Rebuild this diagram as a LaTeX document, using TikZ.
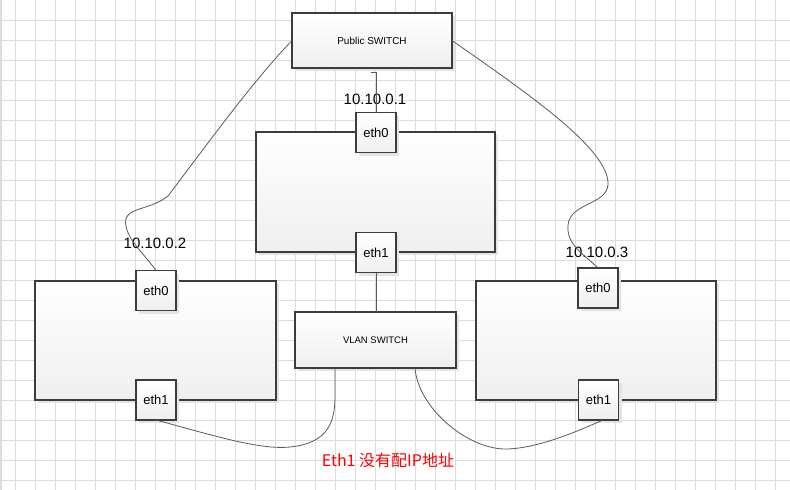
\documentclass[tikz,border=0pt]{standalone}
\usepackage{fontspec}
\setmainfont{Liberation Sans}
\newfontfamily\cjk{Noto Sans CJK SC}
\usetikzlibrary{shadows,calc}
\definecolor{gridc}{HTML}{DCDCDC}
\definecolor{boxline}{HTML}{3C3C3C}
\definecolor{wire}{HTML}{5A5A5A}
\definecolor{shadowc}{HTML}{E4E4E4}
\definecolor{boxbottom}{HTML}{EFEFEF}
\pgfdeclareverticalshading{boxshade}{100bp}{color(0bp)=(boxbottom); color(25bp)=(boxbottom); color(75bp)=(white); color(100bp)=(white)}
\begin{document}
\begin{tikzpicture}[x=1pt,y=-1pt,
  boxbase/.style={draw=boxline, line width=1.2pt, shading=boxshade,
    inner sep=0pt, outer sep=0pt,
    preaction={fill=shadowc, transform canvas={shift={(3pt,-3pt)}}}},
  bigbox/.style={boxbase},
  ethbox/.style={boxbase, minimum width=40pt, minimum height=40pt,
    font=\fontsize{13pt}{15pt}\selectfont},
  iplabel/.style={font=\fontsize{15pt}{17pt}\selectfont, inner sep=0pt},
  wire/.style={draw=wire, line width=0.8pt}
]
\useasboundingbox (0,0) rectangle (790,490);
\fill[white] (0,0) rectangle (790,490);
% grid
\foreach \gx in {15,35,...,775} \draw[gridc, line width=0.9pt] (\gx,0) -- (\gx,490);
\foreach \gy in {20,40,...,480} \draw[gridc, line width=0.9pt] (0,\gy) -- (790,\gy);
\draw[gridc, line width=1.6pt] (0.8,0) -- (0.8,490);

% big boxes
\node[bigbox, minimum width=160pt, minimum height=55pt, font=\fontsize{10pt}{12pt}\selectfont] (psw) at (372,40.5) {Public SWITCH};
\node[bigbox, minimum width=239pt, minimum height=120pt] (mid) at (375.5,192) {};
\node[bigbox, minimum width=161pt, minimum height=56pt, font=\fontsize{9.5pt}{11pt}\selectfont] (vlan) at (375.5,340) {VLAN SWITCH};
\node[bigbox, minimum width=241pt, minimum height=119pt] (lbox) at (155.5,340.5) {};
\node[bigbox, minimum width=240pt, minimum height=119pt] (rbox) at (596,340.5) {};

% eth boxes
\node[ethbox] (m0) at (376,132.5) {eth0};
\node[ethbox] (m1) at (376,252.5) {eth1};
\node[ethbox] (l0) at (156,290.5) {eth0};
\node[ethbox] (l1) at (156,400) {eth1};
\node[ethbox] (r0) at (598,288) {eth0};
\node[ethbox] (r1) at (598.5,400) {eth1};

% labels
\node[iplabel] (ip1) at (375,99) {10.10.0.1};
\node[iplabel] (ip2) at (155,243) {10.10.0.2};
\node[iplabel] (ip3) at (597,252) {10.10.0.3};
\node[font=\cjk\fontsize{16pt}{18pt}\selectfont, text=red, inner sep=0pt] (note) at (388,460) {Eth1 没有配IP地址};

% connectors
\draw[wire] ($(psw.south)+(-1,4)$) -- ($(psw.south)+(4,4)$) -- (m0.north);
\draw[wire] (m1.south) -- (m1.south |- vlan.north);

\draw[wire] (psw.west) .. controls (252,82) and (203,150) .. (168,196)
  .. controls (148,212) and (122,206) .. (126,226)
  .. controls (128,240) and (145,255) .. (l0.north);

\draw[wire] (psw.east) .. controls (530,95) and (610,150) .. (608,185)
  .. controls (606,205) and (570,203) .. (568,225)
  .. controls (566,245) and (585,255) .. (r0.north);

\coordinate (vl) at ($(vlan.south west)+(40,0)$);
\coordinate (vr) at ($(vlan.south west)+(120,0)$);
\coordinate (r1e) at ($(r1.south)+(4.5,0)$);

\draw[wire] (l1.south) .. controls (215,436) and (260,450) .. (290,447)
  .. controls (330,443) and (335,420) .. (335,395) -- (vl);

\draw[wire] (vr) .. controls (418,408) and (468,450) .. (507,449)
  .. controls (540,448) and (580,430) .. (r1e);
\end{tikzpicture}
\end{document}
